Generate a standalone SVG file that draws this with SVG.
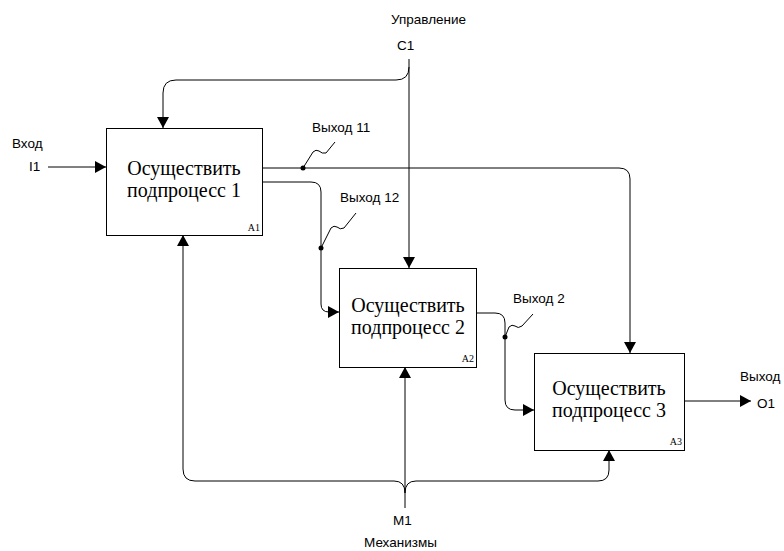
<svg xmlns="http://www.w3.org/2000/svg" width="784" height="551" viewBox="0 0 784 551">
<style>
  .box { fill: #fff; stroke: #000; stroke-width: 1; }
  .title { font-family: "Liberation Serif", "Times New Roman", serif; font-size: 20px; fill: #000; text-anchor: middle; }
  .num { font-family: "Liberation Serif", "Times New Roman", serif; font-size: 10px; fill: #000; text-anchor: end; }
  .lbl { font-family: "Liberation Sans", Arial, sans-serif; font-size: 13.5px; fill: #000; }
  .ln { fill: none; stroke: #000; stroke-width: 1; }
  .arr { marker-end: url(#ah); }
  .sq { fill: none; stroke: #000; stroke-width: 1; }
</style>
<defs>
  <marker id="ah" viewBox="0 0 11 12" refX="11" refY="6" markerWidth="11" markerHeight="12" orient="auto" markerUnits="userSpaceOnUse">
    <path d="M0,0 L11,6 L0,12 z" fill="#000"/>
  </marker>
</defs>

<g id="connectors">
  <path class="ln arr" d="M48,167 L106,167"/>
  <path class="ln arr" d="M409,59 L409,268"/>
  <path class="ln arr" d="M409,67 Q409,80 396,80 L176,80 Q163,80 163,93 L163,128"/>
  <path class="ln arr" d="M262,168 L619,168 Q630,168 630,179 L630,353"/>
  <path class="ln arr" d="M262,182 L311,182 Q321,182 321,192 L321,304 Q321,312 329,312 L339,312"/>
  <path class="ln arr" d="M476,313 L495,313 Q505,313 505,323 L505,400 Q505,410 515,410 L534,410"/>
  <path class="ln arr" d="M684,401 L751,401"/>
  <path class="ln arr" d="M405,508 L405,367"/>
  <path class="ln arr" d="M405,493 Q405,481 394,481 L195,481 Q183,481 183,469 L183,235"/>
  <path class="ln arr" d="M405,493 Q405,481 416,481 L598,481 Q609,481 609,470 L609,450"/>
  <circle cx="303" cy="168" r="2.5" fill="#000"/>
  <circle cx="321" cy="248" r="2.5" fill="#000"/>
  <circle cx="505" cy="337" r="2.5" fill="#000"/>
  <path class="sq" d="M303,168 L313,152 Q316,149 319,151 Q322,154 326,153 L335,142"/>
  <path class="sq" d="M321,248 L331,228 Q334,225 337,227 Q340,230 344,228 L356,213"/>
  <path class="sq" d="M505,337 L509,327 Q512,324 515,326 Q518,329 522,326 L533,314"/>
</g>

<g id="A1">
  <rect class="box" x="106.5" y="128.5" width="156" height="107"/>
  <text class="title" x="184" y="175">Осуществить</text>
  <text class="title" x="184" y="197">подпроцесс 1</text>
  <text class="num" x="260" y="231">A1</text>
</g>
<g id="A2">
  <rect class="box" x="339.5" y="268.5" width="137" height="99"/>
  <text class="title" x="408" y="312">Осуществить</text>
  <text class="title" x="408" y="334">подпроцесс 2</text>
  <text class="num" x="474" y="362">A2</text>
</g>
<g id="A3">
  <rect class="box" x="534.5" y="353.5" width="150" height="97"/>
  <text class="title" x="609" y="395">Осуществить</text>
  <text class="title" x="609" y="417">подпроцесс 3</text>
  <text class="num" x="682" y="445">A3</text>
</g>

<g id="labels">
  <text class="lbl" x="391" y="24">Управление</text>
  <text class="lbl" x="397" y="50">C1</text>
  <text class="lbl" x="12" y="148">Вход</text>
  <text class="lbl" x="29" y="171">I1</text>
  <text class="lbl" x="312" y="132">Выход 11</text>
  <text class="lbl" x="340" y="202">Выход 12</text>
  <text class="lbl" x="513" y="303">Выход 2</text>
  <text class="lbl" x="740" y="381">Выход</text>
  <text class="lbl" x="757" y="408">O1</text>
  <text class="lbl" x="393" y="525">M1</text>
  <text class="lbl" x="364" y="547">Механизмы</text>
</g>
</svg>
